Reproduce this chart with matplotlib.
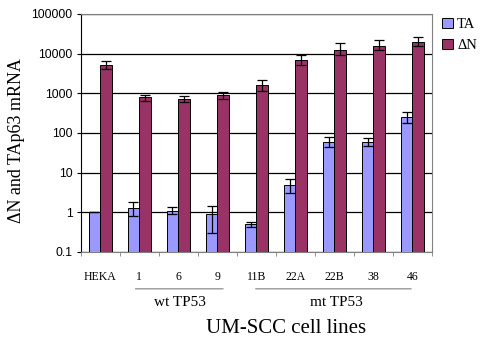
import matplotlib.pyplot as plt
import numpy as np

cell_lines = ["HEKA", "1", "6", "9", "11B", "22A", "22B", "38", "46"]
ta_values = [1.0, 1.3, 1.1, 0.9, 0.5, 4.8, 60, 60, 250]
ta_err_low = [0, 0.5, 0.2, 0.6, 0.07, 1.8, 15, 12, 70]
ta_err_high = [0, 0.5, 0.25, 0.5, 0.08, 2.2, 18, 15, 80]
dn_values = [5200, 800, 720, 900, 1600, 7000, 12500, 16000, 20000]
dn_err_low = [1200, 150, 130, 180, 450, 1800, 3500, 4000, 4500]
dn_err_high = [1300, 130, 130, 150, 600, 2200, 5500, 6000, 6000]

groups = ["wt TP53", "mt TP53"]
group_members = [(1, 3), (4, 8)]

ta_color = "#9999FF"
dn_color = "#993366"
serif = "Liberation Serif"
sans = "Liberation Sans"

fig = plt.figure(figsize=(4.81, 3.40), dpi=100)
ax = fig.add_axes([0.168, 0.259, 0.730, 0.700])

x = np.arange(len(cell_lines)) + 0.5
w = 0.3
err_kw = dict(ecolor="black", elinewidth=0.9, capsize=3.5, capthick=0.9)
ax.bar(x - w / 2, ta_values, w, color=ta_color, edgecolor="black", linewidth=0.7,
       yerr=[ta_err_low, ta_err_high], error_kw=err_kw, label="TA", zorder=3)
ax.bar(x + w / 2, dn_values, w, color=dn_color, edgecolor="black", linewidth=0.7,
       yerr=[dn_err_low, dn_err_high], error_kw=err_kw, label="\u0394N", zorder=3)

ax.set_yscale("log")
ax.set_ylim(0.1, 100000)
ax.set_xlim(0, len(cell_lines))
ax.set_yticks([0.1, 1, 10, 100, 1000, 10000, 100000])
ax.set_yticklabels(["0.1", "1", "10", "100", "1000", "10000", "100000"],
                   fontfamily=sans, fontsize=8.7)
ax.yaxis.set_minor_locator(plt.NullLocator())
ax.grid(axis="y", color="black", linewidth=0.9, zorder=0)

ax.set_xticks(x)
ax.set_xticklabels(cell_lines, fontfamily=serif, fontsize=8.5)
ax.set_xticks(np.arange(len(cell_lines) + 1), minor=True)
ax.tick_params(axis="x", which="major", length=0, pad=14)
ax.tick_params(axis="x", which="minor", length=3, color="gray")
ax.tick_params(axis="y", length=3, pad=3)

for side in ["top", "right", "bottom"]:
    ax.spines[side].set_color("gray")
ax.spines["left"].set_color("black")

ax.set_ylabel("\u0394N and TAp63 mRNA", fontfamily=serif, fontsize=13)
ax.yaxis.set_label_coords(-0.16, 0.47)

# group labels under the cell lines
line_pad = [(-0.17, 0.22), (-0.09, 0.04)]
for label, (first, last), (pl, pr) in zip(groups, group_members, line_pad):
    ax.annotate("", xy=(x[first] + pl, -0.155), xytext=(x[last] + pr, -0.155),
                xycoords=("data", "axes fraction"), textcoords=("data", "axes fraction"),
                arrowprops=dict(arrowstyle="-", color="gray", linewidth=0.8))
    ax.text((x[first] + x[last]) / 2 + 0.05, -0.185, label, transform=ax.get_xaxis_transform(),
            ha="center", va="top", fontfamily=serif, fontsize=11)

fig.text(0.595, 0.02, "UM-SCC cell lines", ha="center", va="baseline",
         fontfamily=serif, fontsize=15)

ax.legend(loc="upper left", bbox_to_anchor=(1.03, 0.985), frameon=False,
          prop={"family": serif, "size": 10.5}, handlelength=0.7, handleheight=0.7,
          handletextpad=0.3, labelspacing=0.55, borderaxespad=0, borderpad=0)

fig.savefig("out.png", dpi=100)
